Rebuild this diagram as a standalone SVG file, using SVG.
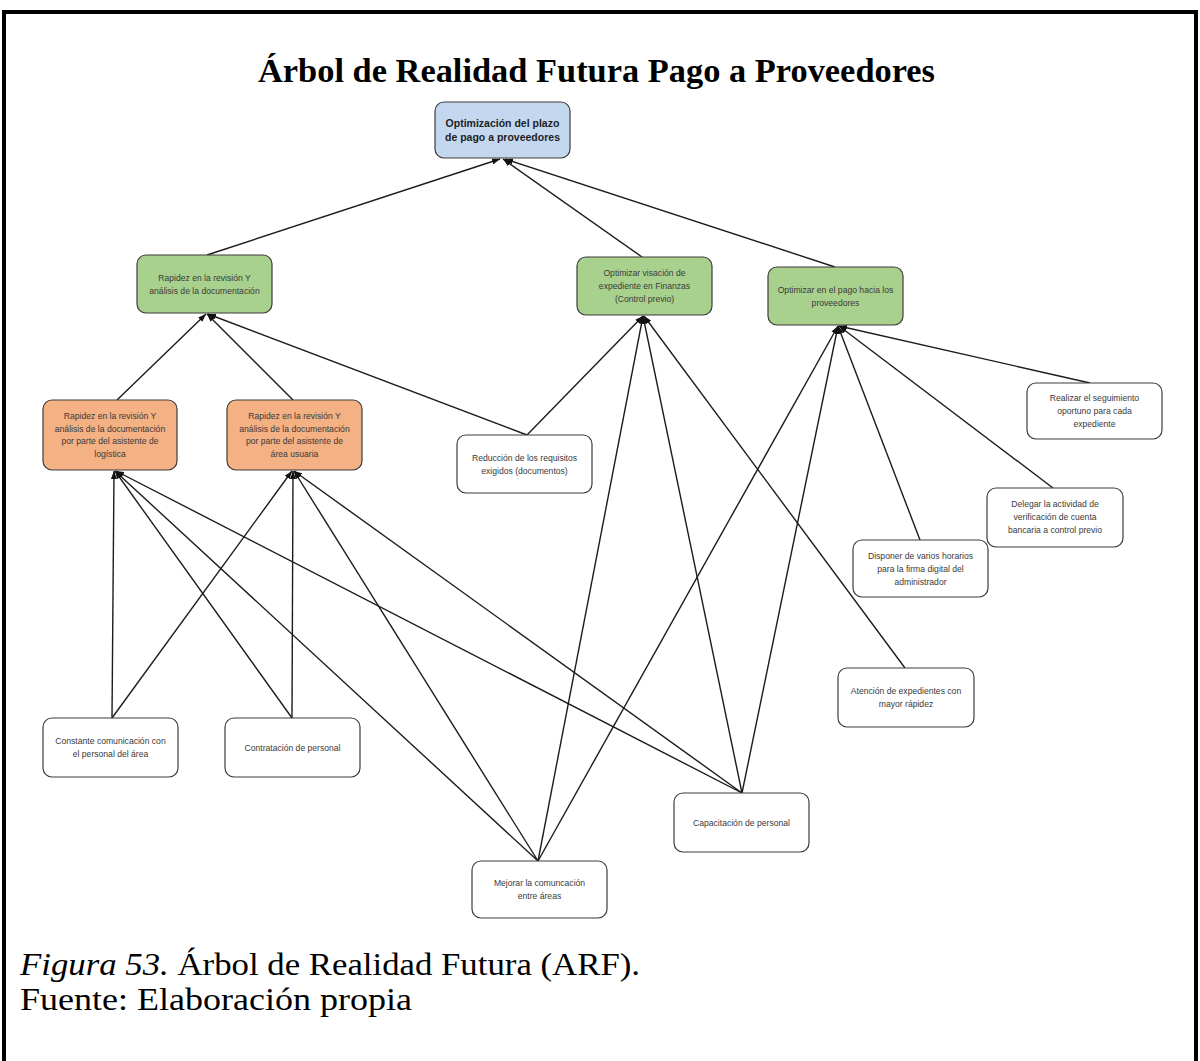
<svg xmlns="http://www.w3.org/2000/svg" width="1200" height="1061" viewBox="0 0 1200 1061">
  <style>
    .box { stroke: #3c3c3c; stroke-width: 1.2; }
    .blue { fill: #c3d8ef; }
    .green { fill: #a9d18e; }
    .orange { fill: #f4b183; }
    .plain { fill: #ffffff; }
    .lbl { font-family: "Liberation Sans", Arial, sans-serif; font-size: 8.6px; fill: #3a3a3a; text-anchor: middle; }
    .lblb { font-family: "Liberation Sans", Arial, sans-serif; font-size: 10.5px; font-weight: bold; fill: #1e1e1e; text-anchor: middle; }
    .edge { stroke: #1c1c1c; stroke-width: 1.4; fill: none; marker-end: url(#head); }
    .title { font-family: "Liberation Serif", "Times New Roman", serif; font-size: 33px; font-weight: bold; fill: #000; }
    .cap { font-family: "Liberation Serif", "Times New Roman", serif; font-size: 31px; fill: #000; }
  </style>
  <defs>
    <marker id="head" markerWidth="8" markerHeight="6" refX="8" refY="3" orient="auto" markerUnits="userSpaceOnUse">
      <path d="M0,0 L8,3 L0,6 Z" fill="#111"/>
    </marker>
  </defs>

  <rect x="0" y="0" width="1200" height="1061" fill="#ffffff"/>
  <!-- page frame -->
  <rect x="4" y="12" width="1192" height="1070" fill="none" stroke="#000" stroke-width="4"/>

  <text class="title" x="258" y="82" textLength="677" lengthAdjust="spacingAndGlyphs">Árbol de Realidad Futura Pago a Proveedores</text>

  <g id="connectors">
    <line class="edge" x1="207" y1="255" x2="500" y2="159"/>
    <line class="edge" x1="642" y1="257" x2="503" y2="159"/>
    <line class="edge" x1="835" y1="267" x2="505" y2="159"/>
    <line class="edge" x1="117" y1="400" x2="206" y2="314"/>
    <line class="edge" x1="293" y1="400" x2="207" y2="314"/>
    <line class="edge" x1="527" y1="435" x2="208" y2="314"/>
    <line class="edge" x1="527" y1="435" x2="643" y2="316"/>
    <line class="edge" x1="538" y1="861" x2="643" y2="316"/>
    <line class="edge" x1="742" y1="793" x2="643" y2="316"/>
    <line class="edge" x1="905" y1="668" x2="644" y2="316"/>
    <line class="edge" x1="538" y1="861" x2="838" y2="326"/>
    <line class="edge" x1="742" y1="793" x2="838" y2="326"/>
    <line class="edge" x1="920" y1="540" x2="838" y2="326"/>
    <line class="edge" x1="1053" y1="488" x2="839" y2="326"/>
    <line class="edge" x1="1090" y1="383" x2="839" y2="326"/>
    <line class="edge" x1="112" y1="718" x2="114" y2="471"/>
    <line class="edge" x1="292" y1="718" x2="115" y2="471"/>
    <line class="edge" x1="538" y1="861" x2="115" y2="471"/>
    <line class="edge" x1="742" y1="793" x2="116" y2="471"/>
    <line class="edge" x1="112" y1="718" x2="292" y2="471"/>
    <line class="edge" x1="292" y1="718" x2="293" y2="471"/>
    <line class="edge" x1="538" y1="861" x2="294" y2="471"/>
    <line class="edge" x1="742" y1="793" x2="294" y2="471"/>
  </g>

  <g id="n-goal">
    <rect class="box blue" x="435" y="102" width="135" height="56" rx="9"/>
    <text class="lblb"><tspan x="502.5" y="127">Optimización del plazo</tspan><tspan x="502.5" y="141">de pago a proveedores</tspan></text>
  </g>

  <g id="n-rapidez">
    <rect class="box green" x="137" y="255" width="135" height="58" rx="9"/>
    <text class="lbl"><tspan x="204.5" y="281">Rapidez en la revisión Y</tspan><tspan x="204.5" y="294">análisis de la documentación</tspan></text>
  </g>

  <g id="n-visacion">
    <rect class="box green" x="577" y="257" width="135" height="58" rx="9"/>
    <text class="lbl"><tspan x="644.5" y="276">Optimizar visación de</tspan><tspan x="644.5" y="289">expediente en Finanzas</tspan><tspan x="644.5" y="302">(Control previo)</tspan></text>
  </g>

  <g id="n-pago">
    <rect class="box green" x="768" y="267" width="135" height="58" rx="9"/>
    <text class="lbl"><tspan x="835.5" y="293">Optimizar en el pago hacia los</tspan><tspan x="835.5" y="306">proveedores</tspan></text>
  </g>

  <g id="n-logistica">
    <rect class="box orange" x="43" y="400" width="134" height="70" rx="9"/>
    <text class="lbl"><tspan x="110" y="419">Rapidez en la revisión Y</tspan><tspan x="110" y="431.5">análisis de la documentación</tspan><tspan x="110" y="444">por parte del asistente de</tspan><tspan x="110" y="456.5">logística</tspan></text>
  </g>

  <g id="n-usuaria">
    <rect class="box orange" x="227" y="400" width="135" height="70" rx="9"/>
    <text class="lbl"><tspan x="294.5" y="419">Rapidez en la revisión Y</tspan><tspan x="294.5" y="431.5">análisis de la documentación</tspan><tspan x="294.5" y="444">por parte del asistente de</tspan><tspan x="294.5" y="456.5">área usuaria</tspan></text>
  </g>

  <g id="n-requisitos">
    <rect class="box plain" x="457" y="435" width="135" height="58" rx="9"/>
    <text class="lbl"><tspan x="524.5" y="461">Reducción de los requisitos</tspan><tspan x="524.5" y="474">exigidos (documentos)</tspan></text>
  </g>

  <g id="n-seguimiento">
    <rect class="box plain" x="1027" y="383" width="135" height="56" rx="9"/>
    <text class="lbl"><tspan x="1094.5" y="401">Realizar el seguimiento</tspan><tspan x="1094.5" y="414">oportuno para cada</tspan><tspan x="1094.5" y="427">expediente</tspan></text>
  </g>

  <g id="n-delegar">
    <rect class="box plain" x="987" y="488" width="136" height="59" rx="9"/>
    <text class="lbl"><tspan x="1055" y="507">Delegar la actividad de</tspan><tspan x="1055" y="520">verificación de cuenta</tspan><tspan x="1055" y="533">bancaria a control previo</tspan></text>
  </g>

  <g id="n-horarios">
    <rect class="box plain" x="853" y="540" width="135" height="57" rx="9"/>
    <text class="lbl"><tspan x="920.5" y="559">Disponer de varios horarios</tspan><tspan x="920.5" y="572">para la firma digital del</tspan><tspan x="920.5" y="585">administrador</tspan></text>
  </g>

  <g id="n-atencion">
    <rect class="box plain" x="838" y="668" width="136" height="59" rx="9"/>
    <text class="lbl"><tspan x="906" y="694">Atención de expedientes con</tspan><tspan x="906" y="707">mayor rápidez</tspan></text>
  </g>

  <g id="n-comunicacion">
    <rect class="box plain" x="43" y="718" width="135" height="59" rx="9"/>
    <text class="lbl"><tspan x="110.5" y="744">Constante comunicación con</tspan><tspan x="110.5" y="757">el personal del área</tspan></text>
  </g>

  <g id="n-contratacion">
    <rect class="box plain" x="225" y="718" width="135" height="59" rx="9"/>
    <text class="lbl"><tspan x="292.5" y="750.5">Contratación de personal</tspan></text>
  </g>

  <g id="n-capacitacion">
    <rect class="box plain" x="674" y="793" width="135" height="59" rx="9"/>
    <text class="lbl"><tspan x="741.5" y="825.5">Capacitación de personal</tspan></text>
  </g>

  <g id="n-mejorar">
    <rect class="box plain" x="472" y="861" width="135" height="57" rx="9"/>
    <text class="lbl"><tspan x="539.5" y="886">Mejorar la comuncación</tspan><tspan x="539.5" y="899">entre áreas</tspan></text>
  </g>

  <text class="cap" x="20" y="975" textLength="620" lengthAdjust="spacingAndGlyphs"><tspan font-style="italic">Figura 53.</tspan> Árbol de Realidad Futura (ARF).</text>
  <text class="cap" x="20" y="1010" textLength="392" lengthAdjust="spacingAndGlyphs">Fuente: Elaboración propia</text>
</svg>
